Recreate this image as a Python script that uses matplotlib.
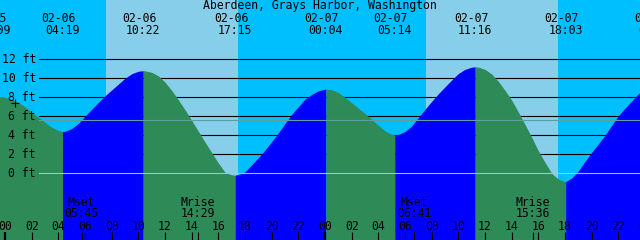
import matplotlib
matplotlib.use("Agg")
import matplotlib.pyplot as plt
import matplotlib.transforms as mtransforms

# tide events (labels across the top)
event_dates = ["02-05", "02-06", "02-06", "02-06", "02-07", "02-07", "02-07", "02-07", "02-08"]
event_times = ["23:09", "04:19", "10:22", "17:15", "00:04", "05:14", "11:16", "18:03", "00:45"]
event_heights = [8.2, 4.4, 10.8, -0.2, 8.85, 4.05, 11.2, -0.88, 9.2]

# water level read every half hour, hours from 02-06 00:00 (-1 .. 48)
hours = [i / 2 for i in range(-2, 97)]
heights = [8.18, 8.15, 8.0, 7.8, 7.45, 7.0, 6.45, 5.9, 5.35, 4.85,
           4.5, 4.42, 4.7, 5.25, 6.0, 6.73, 7.46, 8.16, 8.77, 9.39,
           10.0, 10.48, 10.74, 10.79, 10.63, 10.26, 9.6, 8.72, 7.74, 6.68,
           5.58, 4.42, 3.29, 2.18, 1.09, 0.1, -0.15, -0.12, 0.15, 0.9,
           1.64, 2.45, 3.32, 4.25, 5.24, 6.2, 7.0, 7.8, 8.3, 8.68,
           8.85, 8.8, 8.5, 8.0, 7.43, 6.86, 6.29, 5.7, 5.05, 4.45,
           4.1, 4.09, 4.39, 4.98, 5.86, 6.73, 7.57, 8.37, 9.1, 9.82,
           10.5, 10.94, 11.17, 11.18, 10.94, 10.45, 9.68, 8.73, 7.7, 6.45,
           5.15, 3.8, 2.37, 1.15, 0.0, -0.62, -0.87, -0.5, 0.25, 1.25,
           2.2, 3.1, 4.0, 5.05, 6.05, 6.85, 7.6, 8.37, 8.9]

sunrise = ["02-06 07:35", "02-07 07:34"]
sunset = ["02-06 17:28", "02-07 17:29"]

moon_names = ["Mset", "Mrise", "Mset", "Mrise"]
moon_times = ["02-06 05:45", "02-06 14:29", "02-07 06:41", "02-07 15:36"]

levels = [0, 2, 4, 6, 8, 10, 12]
mean_level = 5.58
now_t, now_h = 0.75, 7.37
title = "Aberdeen, Grays Harbor, Washington"

NIGHT = "#00BFFF"
DAY = "#87CEEB"
RISE = "#0000FF"
FALL = "#2E8B57"
FONT = "DejaVu Sans Mono"
FS = 8.3


def to_hours(stamp):
    day = int(stamp[3:5]) - 6
    hh, mm = stamp[6:].split(":")
    return day * 24 + int(hh) + int(mm) / 60


ev_t = [to_hours(d + " " + t) for d, t in zip(event_dates, event_times)]

fig = plt.figure(figsize=(6.4, 2.4), dpi=100, facecolor=NIGHT)
ax = fig.add_axes([0, 0, 1, 1])
ax.set_facecolor(NIGHT)
ax.set_xlim(-0.375, 47.625)
ax.set_ylim(-7.02, 18.24)
ax.axis("off")
bottom = -7.02

for a, b in zip(sunrise, sunset):
    ax.axvspan(to_hours(a), to_hours(b), color=DAY, lw=0, zorder=0)

# grid lines (behind the water)
for lv in levels[1:]:
    ax.axhline(lv, xmin=39 / 640, xmax=1, color="black", lw=0.8, zorder=1)

# curve = half-hourly readings + the extremes; blue while rising, green while falling
pts = sorted(list(zip(hours, heights)) + list(zip(ev_t, event_heights)))
bounds = [-99] + ev_t + [99]
hb = [event_heights[0] - 1] + event_heights + [event_heights[-1] - 1]
for i in range(len(bounds) - 1):
    seg = [p for p in pts if bounds[i] <= p[0] <= bounds[i + 1]]
    if len(seg) < 2:
        continue
    rising = hb[i + 1] > hb[i]
    ts = [p[0] for p in seg]
    hs = [p[1] for p in seg]
    ax.fill_between(ts, hs, bottom, color=RISE if rising else FALL, lw=0, zorder=2)

ax.axhline(0, xmin=39 / 640, xmax=1, color=DAY, lw=0.8, zorder=3)
ax.axhline(mean_level, xmin=39 / 640, xmax=1, color="#5F9EA0", lw=0.8, zorder=3)

# y labels
ytrans = mtransforms.blended_transform_factory(ax.transAxes, ax.transData)
for lv in levels:
    ax.text(36 / 640, lv - 0.42, f"{lv} ft", transform=ytrans,
            ha="right", va="baseline", family=FONT, fontsize=FS, zorder=4)

trans = mtransforms.blended_transform_factory(ax.transData, ax.transAxes)

ax.text(0.5, 0.961, title, transform=ax.transAxes, ha="center", va="baseline",
        family=FONT, fontsize=FS, zorder=4)
for t, d, s in zip(ev_t, event_dates, event_times):
    ax.text(t - 0.3, 0.910, d, transform=trans, ha="center", va="baseline", family=FONT, fontsize=FS, zorder=4)
    ax.text(t, 0.858, s, transform=trans, ha="center", va="baseline", family=FONT, fontsize=FS, zorder=4)

# hour ticks
for h in range(0, 50, 2):
    ax.text(h, 0.0417, f"{h % 24:02d}", transform=trans, ha="center", va="baseline",
            family=FONT, fontsize=FS, zorder=4)
    ax.vlines(h, 0, 8 / 240, transform=trans, color="black",
              lw=1.6 if h % 24 == 0 else 0.8, zorder=4)

# moon rise / set
for name, stamp in zip(moon_names, moon_times):
    t = to_hours(stamp)
    ax.vlines(t, 0, 8 / 240, transform=trans, color="black", lw=0.8, zorder=4)
    ax.text(t, 0.142, name, transform=trans, ha="center", va="baseline", family=FONT, fontsize=FS, zorder=4)
    ax.text(t, 0.0946, stamp[6:], transform=trans, ha="center", va="baseline", family=FONT, fontsize=FS, zorder=4)

ax.plot([now_t], [now_h], marker="+", color="black", ms=6, mew=0.8, zorder=5)

fig.savefig("out.png", dpi=100, facecolor=NIGHT)
